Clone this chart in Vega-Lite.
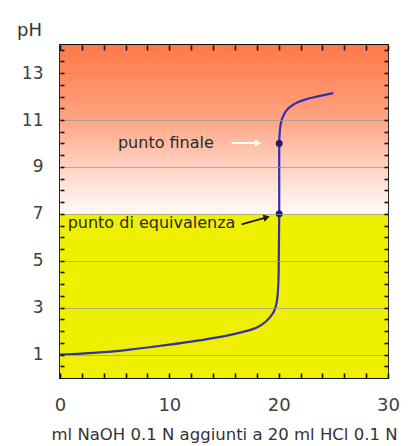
{
  "$schema": "https://vega.github.io/schema/vega-lite/v6.json",
  "width": 328,
  "height": 333,
  "autosize": {"type": "none"},
  "padding": {"left": 60, "top": 45, "right": 28, "bottom": 68},
  "background": "white",
  "config": {
    "view": {"stroke": "#111111", "strokeWidth": 1.8},
    "font": "DejaVu Sans"
  },
  "datasets": {
    "curva": [
      {"step": 1, "ml": 0, "pH": 1.0},
      {"step": 2, "ml": 2, "pH": 1.04},
      {"step": 3, "ml": 4, "pH": 1.1},
      {"step": 4, "ml": 6, "pH": 1.19},
      {"step": 5, "ml": 8, "pH": 1.3},
      {"step": 6, "ml": 10, "pH": 1.42},
      {"step": 7, "ml": 12, "pH": 1.55},
      {"step": 8, "ml": 14, "pH": 1.7},
      {"step": 9, "ml": 16, "pH": 1.88},
      {"step": 10, "ml": 17, "pH": 2.0},
      {"step": 11, "ml": 18, "pH": 2.15},
      {"step": 12, "ml": 18.8, "pH": 2.4},
      {"step": 13, "ml": 19.3, "pH": 2.65},
      {"step": 14, "ml": 19.7, "pH": 3.0},
      {"step": 15, "ml": 19.9, "pH": 3.5},
      {"step": 16, "ml": 20.0, "pH": 4.5},
      {"step": 17, "ml": 20.05, "pH": 7.0},
      {"step": 18, "ml": 20.05, "pH": 10.0},
      {"step": 19, "ml": 20.12, "pH": 10.6},
      {"step": 20, "ml": 20.25, "pH": 10.95},
      {"step": 21, "ml": 20.5, "pH": 11.25},
      {"step": 22, "ml": 20.9, "pH": 11.5},
      {"step": 23, "ml": 21.5, "pH": 11.7},
      {"step": 24, "ml": 22.4, "pH": 11.87},
      {"step": 25, "ml": 23.5, "pH": 12.0},
      {"step": 26, "ml": 25, "pH": 12.15}
    ],
    "punti": [
      {"punto": "equivalenza", "ml": 20.05, "pH": 7.0},
      {"punto": "finale", "ml": 20.05, "pH": 10.0}
    ],
    "etichette": [
      {"punto": "finale", "testo": "punto finale", "ml": 5.3, "pH": 10.0},
      {"punto": "equivalenza", "testo": "punto di equivalenza", "ml": 0.7, "pH": 6.62}
    ],
    "frecce": [
      {"punto": "finale", "ml": 15.7, "pH": 10.02, "ml2": 18.1, "pH2": 10.02},
      {"punto": "equivalenza", "ml": 16.6, "pH": 6.55, "ml2": 18.9, "pH2": 6.85}
    ],
    "zone": [{"zona": "soluzione"}]
  },
  "layer": [
    {
      "data": {"name": "zone"},
      "mark": {"type": "rect", "color": "#eef000"},
      "encoding": {
        "x": {
          "datum": 0,
          "type": "quantitative",
          "scale": {"domain": [0, 30], "nice": false},
          "axis": {
            "orient": "bottom",
            "offset": -5,
            "values": [0, 2, 4, 6, 8, 10, 12, 14, 16, 18, 20, 22, 24, 26, 28, 30],
            "labelExpr": "datum.value % 10 == 0 ? format(datum.value, 'd') : ''",
            "grid": false,
            "domain": false,
            "ticks": true,
            "tickSize": 5,
            "tickColor": "#111111",
            "tickWidth": 1.6,
            "labelPadding": 18,
            "labelFontSize": 18,
            "labelColor": "#404040",
            "labelFont": "DejaVu Sans",
            "labelFlush": false,
            "title": "ml NaOH 0.1 N aggiunti a 20 ml HCl 0.1 N",
            "titleFont": "DejaVu Sans",
            "titleFontSize": 16.5,
            "titleFontWeight": "normal",
            "titleColor": "#333333",
            "titleY": 66,
            "titleBaseline": "alphabetic",
            "zindex": 1
          }
        },
        "x2": {"datum": 30},
        "y": {
          "datum": 0,
          "type": "quantitative",
          "scale": {"domain": [0, 14.2], "nice": false},
          "axis": {
            "orient": "left",
            "offset": -4,
            "values": [0.5, 1, 1.5, 2, 2.5, 3, 3.5, 4, 4.5, 5, 5.5, 6, 6.5, 7, 7.5, 8, 8.5, 9, 9.5, 10, 10.5, 11, 11.5, 12, 12.5, 13, 13.5, 14],
            "labelExpr": "datum.value % 2 == 1 ? format(datum.value, 'd') : ''",
            "grid": false,
            "domain": false,
            "ticks": true,
            "tickSize": 4,
            "tickColor": "#111111",
            "tickWidth": 1.6,
            "labelPadding": 17,
            "labelFontSize": 17,
            "labelColor": "#404040",
            "labelFont": "DejaVu Sans",
            "labelFlush": false,
            "title": "pH",
            "titleAngle": 0,
            "titleX": -35,
            "titleY": -10,
            "titleAlign": "center",
            "titleBaseline": "alphabetic",
            "titleFont": "DejaVu Sans",
            "titleFontSize": 18,
            "titleFontWeight": "normal",
            "titleColor": "#333333",
            "zindex": 1
          }
        },
        "y2": {"datum": 7.0}
      }
    },
    {
      "data": {"name": "zone"},
      "mark": {
        "type": "rect",
        "color": {
          "gradient": "linear",
          "x1": 0, "y1": 0, "x2": 0, "y2": 1,
          "stops": [
            {"offset": 0, "color": "#ff7848"},
            {"offset": 0.44, "color": "#ffa482"},
            {"offset": 0.73, "color": "#ffd4c6"},
            {"offset": 0.88, "color": "#ffeae2"},
            {"offset": 1, "color": "#fffaf8"}
          ]
        }
      },
      "encoding": {
        "x": {
          "datum": 0,
          "type": "quantitative",
          "scale": {"domain": [0, 30], "nice": false},
          "axis": {
            "orient": "top",
            "offset": -5,
            "values": [0, 2, 4, 6, 8, 10, 12, 14, 16, 18, 20, 22, 24, 26, 28, 30],
            "labels": false,
            "grid": false,
            "domain": false,
            "ticks": true,
            "tickSize": 5,
            "tickColor": "#111111",
            "tickWidth": 1.6,
            "title": null,
            "zindex": 1
          }
        },
        "x2": {"datum": 30},
        "y": {
          "datum": 7.0,
          "type": "quantitative",
          "scale": {"domain": [0, 14.2], "nice": false},
          "axis": {
            "orient": "right",
            "offset": -4,
            "values": [0.5, 1, 1.5, 2, 2.5, 3, 3.5, 4, 4.5, 5, 5.5, 6, 6.5, 7, 7.5, 8, 8.5, 9, 9.5, 10, 10.5, 11, 11.5, 12, 12.5, 13, 13.5, 14],
            "labels": false,
            "grid": false,
            "domain": false,
            "ticks": true,
            "tickSize": 4,
            "tickColor": "#111111",
            "tickWidth": 1.6,
            "title": null,
            "zindex": 1
          }
        },
        "y2": {"datum": 14.2}
      }
    },
    {
      "data": {"name": "curva"},
      "mark": {"type": "line", "color": "#3430a8", "strokeWidth": 2.2, "interpolate": "monotone"},
      "encoding": {
        "x": {"field": "ml", "type": "quantitative", "axis": null},
        "y": {
          "field": "pH",
          "type": "quantitative",
          "axis": {
            "orient": "left",
            "values": [1, 3, 5, 7, 9, 11, 13],
            "grid": true,
            "gridColor": "#9a9a9a",
            "gridWidth": 1,
            "gridOpacity": 0.75,
            "labels": false,
            "ticks": false,
            "domain": false,
            "title": null,
            "zindex": 1
          }
        },
        "order": {"field": "step", "type": "quantitative"}
      }
    },
    {
      "data": {"name": "punti"},
      "mark": {"type": "circle", "color": "#1c1c66", "size": 48, "opacity": 1},
      "encoding": {
        "x": {"field": "ml", "type": "quantitative", "axis": null},
        "y": {"field": "pH", "type": "quantitative", "axis": null}
      }
    },
    {
      "data": {"name": "frecce"},
      "mark": {"type": "rule", "strokeWidth": 2},
      "encoding": {
        "x": {"field": "ml", "type": "quantitative", "axis": null},
        "y": {"field": "pH", "type": "quantitative", "axis": null},
        "x2": {"field": "ml2"},
        "y2": {"field": "pH2"},
        "color": {
          "field": "punto",
          "type": "nominal",
          "scale": {"domain": ["finale", "equivalenza"], "range": ["#ffffff", "#1a1a1a"]},
          "legend": null
        }
      }
    },
    {
      "data": {"name": "frecce"},
      "transform": [{"filter": "datum.punto == 'finale'"}],
      "mark": {"type": "point", "shape": "triangle-right", "filled": true, "color": "#ffffff", "size": 55, "opacity": 1},
      "encoding": {
        "x": {"field": "ml2", "type": "quantitative", "axis": null},
        "y": {"field": "pH2", "type": "quantitative", "axis": null}
      }
    },
    {
      "data": {"name": "frecce"},
      "transform": [{"filter": "datum.punto == 'equivalenza'"}],
      "mark": {"type": "point", "shape": "triangle-right", "filled": true, "color": "#1a1a1a", "size": 55, "angle": -15, "opacity": 1},
      "encoding": {
        "x": {"field": "ml2", "type": "quantitative", "axis": null},
        "y": {"field": "pH2", "type": "quantitative", "axis": null}
      }
    },
    {
      "data": {"name": "etichette"},
      "mark": {"type": "text", "align": "left", "baseline": "middle", "font": "DejaVu Sans", "fontSize": 16, "color": "#2a2a2a"},
      "encoding": {
        "x": {"field": "ml", "type": "quantitative", "axis": null},
        "y": {"field": "pH", "type": "quantitative", "axis": null},
        "text": {"field": "testo"}
      }
    }
  ],
  "resolve": {"axis": {"x": "independent", "y": "independent"}}
}
